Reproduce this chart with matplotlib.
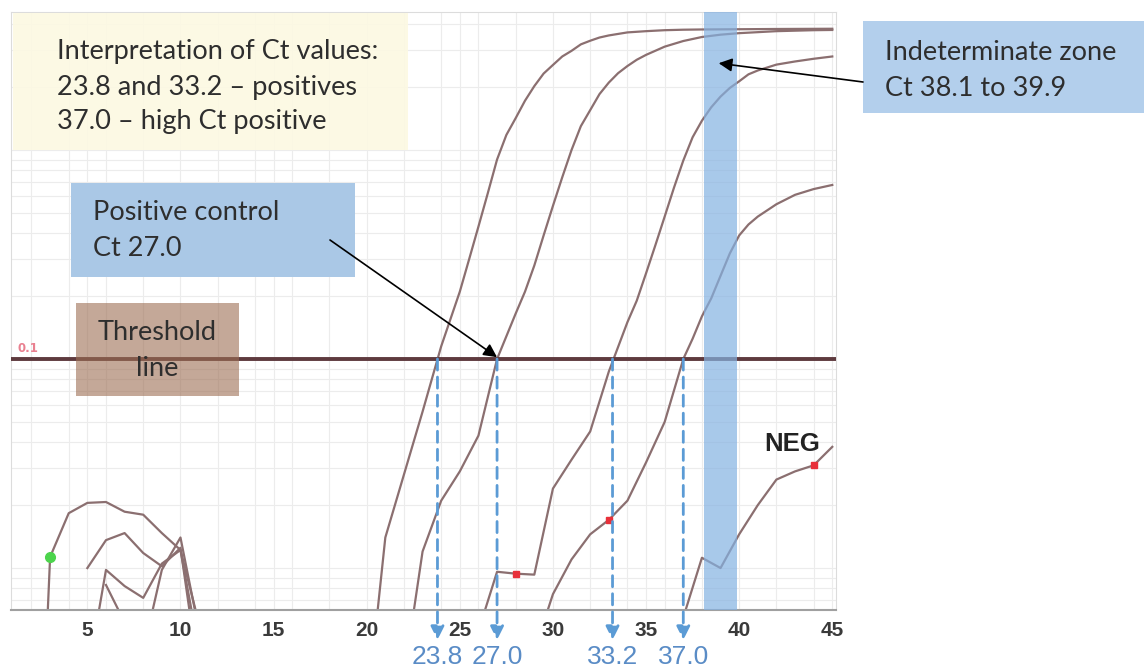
import numpy as np
import matplotlib
matplotlib.use("Agg")
import matplotlib.pyplot as plt
from matplotlib.patches import Rectangle
from matplotlib.ticker import LogLocator, NullFormatter, FixedLocator

W, H = 1144, 668

# amplification curves: cycle and fluorescence (log scale)
cyc_a = [20, 21, 22, 23, 24, 25, 25.5, 26, 26.5, 27, 27.5, 28, 28.5, 29, 29.5, 30, 30.5, 31, 31.5, 32, 32.5,
         33, 34, 35, 36, 37, 38, 40, 42, 45]
val_a = [0.002, 0.014, 0.028, 0.056, 0.115, 0.21, 0.3, 0.43, 0.62, 0.9, 1.18, 1.42, 1.72, 2.02, 2.32, 2.55,
         2.8, 2.98, 3.2, 3.33, 3.45, 3.53, 3.65, 3.7, 3.74, 3.76, 3.77, 3.78, 3.79, 3.8]

cyc_b = [22, 23, 24, 25, 26, 27, 28, 28.5, 29, 29.5, 30, 30.5, 31, 31.5, 32, 32.5, 33, 33.5, 34, 34.5, 35,
         36, 37, 38, 39, 40, 41, 42, 43, 44, 45]
val_b = [0.003, 0.012, 0.021, 0.029, 0.043, 0.1, 0.165, 0.21, 0.28, 0.39, 0.54, 0.74, 1.0, 1.3, 1.55, 1.85,
         2.1, 2.33, 2.52, 2.7, 2.85, 3.12, 3.32, 3.47, 3.56, 3.62, 3.66, 3.7, 3.72, 3.74, 3.75]

cyc_c = [26, 27, 28, 29, 30, 31, 32, 33, 34, 34.5, 35, 35.5, 36, 36.5, 37, 37.5, 38, 38.5, 39, 39.5, 40,
         40.5, 41, 42, 43, 44, 45]
val_c = [0.005, 0.0096, 0.0094, 0.0093, 0.024, 0.033, 0.045, 0.087, 0.15, 0.19, 0.257, 0.35, 0.48, 0.66,
         0.89, 1.15, 1.38, 1.6, 1.8, 1.98, 2.13, 2.3, 2.4, 2.56, 2.65, 2.73, 2.8]

cyc_d = [29, 30, 31, 32, 33, 34, 35, 36, 37, 37.5, 38, 38.5, 39, 39.5, 40, 40.5, 41, 42, 43, 44, 45]
val_d = [0.004, 0.0075, 0.011, 0.0145, 0.017, 0.021, 0.032, 0.05, 0.1, 0.125, 0.16, 0.195, 0.25, 0.32,
         0.39, 0.44, 0.48, 0.55, 0.61, 0.65, 0.68]

cyc_neg = [37, 38, 39, 40, 41, 42, 43, 44, 45]
val_neg = [0.0058, 0.0112, 0.0100, 0.0145, 0.020, 0.0265, 0.029, 0.031, 0.038]

# baseline noise curves at the start of the run
noise = [
    ([2, 3, 4, 5, 6, 7, 8, 9, 10, 11], [0.0001, 0.0113, 0.0183, 0.0205, 0.0207, 0.0186, 0.018, 0.0147, 0.0122, 0.0054]),
    ([5, 6, 7, 8, 9, 10, 11], [0.0100, 0.0136, 0.0147, 0.0118, 0.0102, 0.0125, 0.003]),
    ([5, 6, 7, 8, 9, 10, 11], [0.003, 0.0098, 0.0082, 0.0072, 0.0105, 0.0122, 0.004]),
    ([6, 7], [0.0083, 0.0055]),
    ([8, 9, 10, 11], [0.004, 0.0098, 0.014, 0.005]),
]

# red / green cycle markers
mark_red = [(28, 0.0094), (33, 0.017), (44, 0.031)]
mark_green = [(3, 0.0113)]

threshold = 0.1
ct_values = [23.8, 27.0, 33.2, 37.0]
zone = (38.1, 39.9)
xticks = [5, 10, 15, 20, 25, 30, 35, 40, 45]

fig = plt.figure(figsize=(W / 100, H / 100), dpi=100)
ax = fig.add_axes([11 / W, 1 - 610 / H, 825 / W, 598 / H])
ax.set_yscale("log")
ax.set_xlim(0.9, 45.2)
ax.set_ylim(0.0063, 4.57)

# grid
ax.xaxis.set_minor_locator(FixedLocator(np.arange(2, 46, 2)))
ax.yaxis.set_minor_locator(LogLocator(base=10, subs=np.arange(2, 10)))
ax.yaxis.set_minor_formatter(NullFormatter())
ax.set_yticklabels([])
ax.grid(which="both", color="#ececec", lw=0.8, zorder=0)
ax.set_axisbelow(True)
ax.set_xticks(xticks)
ax.tick_params(axis="both", which="both", length=0)
ax.tick_params(axis="x", pad=8, labelsize=15, labelcolor="#3a3a3a")
for lab in ax.get_xticklabels():
    lab.set_fontweight("bold")
    lab.set_family("Liberation Sans")
for s in ["top", "left", "right"]:
    ax.spines[s].set_color("#dcdcdc")
    ax.spines[s].set_linewidth(0.8)
ax.spines["bottom"].set_color("#a0a0a0")
ax.spines["bottom"].set_linewidth(1.5)

curve_col = "#8b6f70"
for cx, cy in [(cyc_a, val_a), (cyc_b, val_b), (cyc_c, val_c), (cyc_d, val_d), (cyc_neg, val_neg)] + noise:
    ax.plot(cx, cy, color=curve_col, lw=1.6, zorder=2)
for mx, my in mark_red:
    ax.plot(mx, my, "s", color="#e8303a", ms=4, zorder=3)
for mx, my in mark_green:
    ax.plot(mx, my, "o", color="#4cd44c", ms=7, zorder=3)

ax.axhline(threshold, color="#5e3a3e", lw=2.8, zorder=3)
ax.text(1.25, threshold * 1.04, "0.1", color="#e98090", fontsize=8.5, fontweight="bold", va="bottom", zorder=3)

ax.axvspan(zone[0], zone[1], color="#84b2e2", alpha=0.7, lw=0, zorder=4)

# Ct drop lines with arrows below the axis
blue = "#5b9bd5"
for ct in ct_values:
    ax.annotate("", xy=(ct, -0.05), xycoords=("data", "axes fraction"),
                xytext=(ct, threshold), textcoords="data",
                arrowprops=dict(arrowstyle="-|>", color=blue, lw=2, linestyle=(0, (4, 2.5)),
                                mutation_scale=20, shrinkA=0, shrinkB=0),
                annotation_clip=False, zorder=5)
    ax.text(ct, -0.079, f"{ct:.1f}", transform=ax.get_xaxis_transform(), ha="center", va="center",
            fontsize=19, color="#5a8cc6", family="Liberation Sans", clip_on=False)

ax.text(42.85, 0.039, "NEG", ha="center", va="center", fontsize=18.5, fontweight="bold",
        color="#222222", family="Liberation Sans", zorder=6)


def box(x0, y0, x1, y1, color, alpha=1.0):
    ax.add_patch(Rectangle((x0 / W, 1 - y1 / H), (x1 - x0) / W, (y1 - y0) / H, transform=fig.transFigure,
                           facecolor=color, edgecolor="none", alpha=alpha, zorder=6, clip_on=False))


def label(x, y, s, ha="left"):
    ax.text(x / W, 1 - y / H, s, transform=fig.transFigure, ha=ha, va="center", fontsize=19.5,
            family="Lato", color="#2e2e2e", zorder=7, clip_on=False)


box(13, 13, 408, 150, "#fcf9e2", 0.9)
label(57, 52, "Interpretation of Ct values:")
label(57, 87, "23.8 and 33.2 \u2013 positives")
label(57, 121, "37.0 \u2013 high Ct positive")

box(71, 183, 355, 277, "#aac8e6")
label(93, 213, "Positive control")
label(93, 248, "Ct 27.0")

box(76, 303, 239, 396, "#9d6e53", 0.6)
label(157, 332, "Threshold", ha="center")
label(157, 368, "line", ha="center")

box(863, 21, 1144, 113, "#b3cfec")
label(885, 52, "Indeterminate zone")
label(885, 88, "Ct 38.1 to 39.9")

arrow = dict(arrowstyle="-|>", color="black", lw=1.2, mutation_scale=20, shrinkA=0, shrinkB=0)
ax.annotate("", xy=(27.0, threshold * 1.02), xycoords="data", xytext=(330, H - 240),
            textcoords="figure pixels", arrowprops=arrow, annotation_clip=False, zorder=8)
ax.annotate("", xy=(38.9, 2.6), xycoords="data", xytext=(863, H - 82),
            textcoords="figure pixels", arrowprops=arrow, annotation_clip=False, zorder=8)

fig.savefig("out.png", dpi=100)
